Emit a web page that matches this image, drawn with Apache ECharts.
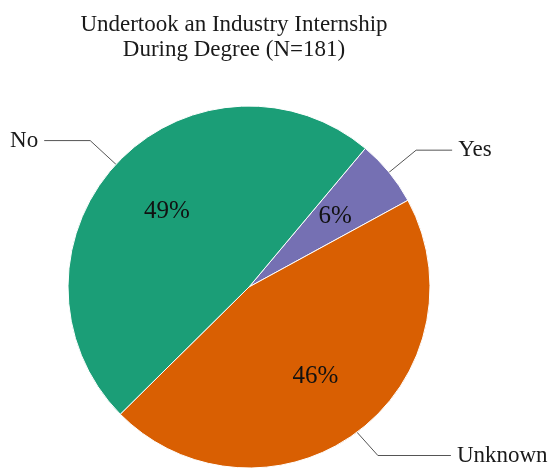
<!DOCTYPE html>
<html>
<head>
<meta charset="utf-8">
<script src="https://cdn.jsdelivr.net/npm/echarts@6/dist/echarts.min.js"></script>
<style>
  html, body { margin: 0; padding: 0; background: #ffffff; }
  #chart { width: 554px; height: 468px; }
</style>
</head>
<body>
<div id="chart"></div>
<script>
// Share of respondents (percent) by whether they undertook an internship
const categories = ['Yes', 'Unknown', 'No'];
const percentages = [6, 46, 49];
const colors = ['#7570b3', '#d95f02', '#1b9e77'];
const leaderTails = [36, 73, 46];
const titleLines = ['Undertook an Industry Internship', 'During Degree (N=181)'];

const serif = '"Liberation Serif", serif';
const center = [249, 287];
const R = 181;

const chart = echarts.init(document.getElementById('chart'), null, { renderer: 'canvas' });

chart.setOption({
  animation: false,
  backgroundColor: '#ffffff',
  textStyle: { fontFamily: serif },
  graphic: [{
    type: 'text',
    x: 234,
    y: 12,
    style: {
      text: titleLines.join('\n'),
      font: '23px "Liberation Serif", serif',
      lineHeight: 25,
      textAlign: 'center',
      fill: '#1a1a1a'
    }
  }],
  series: [
    {
      // slices with outside name labels and leader lines
      type: 'pie',
      center: center,
      radius: R,
      startAngle: 50,
      clockwise: true,
      data: categories.map((name, i) => ({
        name: name,
        value: percentages[i],
        itemStyle: { color: colors[i] },
        labelLine: { length2: leaderTails[i] }
      })),
      itemStyle: { borderColor: '#ffffff', borderWidth: 1 },
      label: {
        show: true,
        position: 'outside',
        formatter: '{b}',
        fontFamily: serif,
        fontSize: 23,
        color: '#1a1a1a',
        overflow: 'none',
        distanceToLabelLine: 6
      },
      labelLine: {
        show: true,
        length: 35,
        lineStyle: { color: '#555555', width: 1 }
      },
      emphasis: { disabled: true }
    },
    {
      // percentage labels placed inside each slice
      type: 'pie',
      center: center,
      radius: [36, R],
      startAngle: 50,
      clockwise: true,
      silent: true,
      data: categories.map((name, i) => ({ name: name, value: percentages[i] })),
      itemStyle: { color: 'rgba(0,0,0,0)' },
      label: {
        show: true,
        position: 'inside',
        formatter: '{p|{c}%}',
        rich: {
          p: { fontFamily: serif, fontSize: 25, color: '#111111' }
        },
        fontFamily: serif,
        fontSize: 25,
        color: '#111111'
      },
      labelLine: { show: false },
      emphasis: { disabled: true }
    }
  ]
});
</script>
</body>
</html>
